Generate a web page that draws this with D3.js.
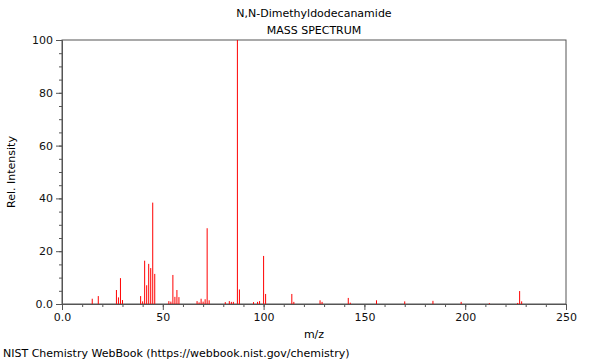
<!DOCTYPE html>
<html>
<head>
<meta charset="utf-8">
<script src="https://cdn.jsdelivr.net/npm/d3@7"></script>
<style>
  body { margin: 0; background: #fff; }
  svg text { font-family: "DejaVu Sans", sans-serif; }
</style>
</head>
<body>
<div id="result"></div>
<script>
(function(){
	'use strict';

	// peaks
	var mz        = [15, 18, 27, 28, 29, 30, 39, 40, 41, 42, 43, 44, 45, 46,
	                 53, 54, 55, 56, 57, 58, 67, 68, 69, 70, 71, 72, 73,
	                 81, 83, 84, 85, 87, 88, 95, 97, 98, 100, 101,
	                 114, 115, 128, 129, 142, 143, 156, 170, 184, 198, 212, 226, 227, 228];
	var intensity = [2.0, 3.0, 5.3, 2.5, 9.8, 1.5, 3.0, 1.0, 16.4, 7.1, 15.2, 13.6, 38.4, 11.4,
	                 1.1, 0.9, 11.0, 2.7, 5.3, 2.6, 1.1, 0.6, 2.0, 0.9, 1.8, 28.7, 1.4,
	                 0.7, 1.1, 0.8, 0.8, 100, 5.5, 0.7, 0.8, 1.1, 18.2, 3.8,
	                 3.8, 0.8, 1.4, 0.8, 2.3, 0.5, 1.4, 1.0, 1.2, 0.8, 0.3, 0.4, 4.9, 1.0];

	var xTicks = [0, 50, 100, 150, 200, 250];
	var yTicks = [0, 20, 40, 60, 80, 100];
	var xMinor = d3.range(0, 251, 10);
	var yMinor = d3.range(0, 101, 5);

	var title1 = "N,N-Dimethyldodecanamide";
	var title2 = "MASS SPECTRUM";

	var option = {
		"width":600,
		"height":360,
		"left":62,
		"right":566,
		"top":40,
		"bottom":304
	};

	var peaks = mz.map(function(d,i){ return {"mz":d, "i":intensity[i]}; });

	var svg = d3.select("#result")
		.append("svg")
		.attr("width",option.width)
		.attr("height",option.height);

	var x = d3.scaleLinear().domain([0,250]).range([option.left,option.right]);
	var y = d3.scaleLinear().domain([0,100]).range([option.bottom,option.top]);

	var fmt = function(d){ return d === 0 ? "0.0" : d; };

	// frame
	svg.append("rect")
		.attr("x",option.left)
		.attr("y",option.top)
		.attr("width",option.right-option.left)
		.attr("height",option.bottom-option.top)
		.attr("fill","none")
		.attr("stroke","#555")
		.attr("stroke-width",1);

	// minor ticks
	svg.append("g")
		.attr("transform","translate(0,"+option.bottom+")")
		.call(d3.axisBottom(x).tickValues(xMinor).tickSize(3).tickFormat(""))
		.call(function(g){ g.select(".domain").remove(); g.selectAll("line").attr("stroke","#555"); });
	svg.append("g")
		.attr("transform","translate("+option.left+",0)")
		.call(d3.axisLeft(y).tickValues(yMinor).tickSize(3).tickFormat(""))
		.call(function(g){ g.select(".domain").remove(); g.selectAll("line").attr("stroke","#555"); });

	// major axes
	var xAxis = svg.append("g")
		.attr("transform","translate(0,"+option.bottom+")")
		.call(d3.axisBottom(x).tickValues(xTicks).tickSize(6).tickPadding(3).tickFormat(fmt));
	var yAxis = svg.append("g")
		.attr("transform","translate("+option.left+",0)")
		.call(d3.axisLeft(y).tickValues(yTicks).tickSize(6).tickPadding(3).tickFormat(fmt));
	[xAxis,yAxis].forEach(function(g){
		g.select(".domain").attr("stroke","#555");
		g.selectAll("line").attr("stroke","#555");
		g.selectAll("text").attr("font-size",11).attr("font-family","DejaVu Sans").attr("fill","#111");
	});

	// peaks
	svg.append("g")
		.selectAll("line")
		.data(peaks)
		.enter()
		.append("line")
		.attr("x1",function(d){return x(d.mz);})
		.attr("x2",function(d){return x(d.mz);})
		.attr("y1",y(0))
		.attr("y2",function(d){return y(d.i);})
		.attr("stroke","#f00")
		.attr("stroke-width",1);

	// texts
	var cx = (option.left+option.right)/2;
	svg.append("text").attr("x",cx).attr("y",17).attr("text-anchor","middle")
		.attr("font-size",11).text(title1);
	svg.append("text").attr("x",cx).attr("y",34).attr("text-anchor","middle")
		.attr("font-size",11).text(title2);
	svg.append("text").attr("x",cx).attr("y",338).attr("text-anchor","middle")
		.attr("font-size",11).text("m/z");
	svg.append("text")
		.attr("transform","translate(15,"+((option.top+option.bottom)/2)+") rotate(-90)")
		.attr("text-anchor","middle")
		.attr("font-size",11).text("Rel. Intensity");
	svg.append("text").attr("x",3).attr("y",357)
		.attr("font-size",11).text("NIST Chemistry WebBook (https://webbook.nist.gov/chemistry)");

})();
</script>
</body>
</html>
